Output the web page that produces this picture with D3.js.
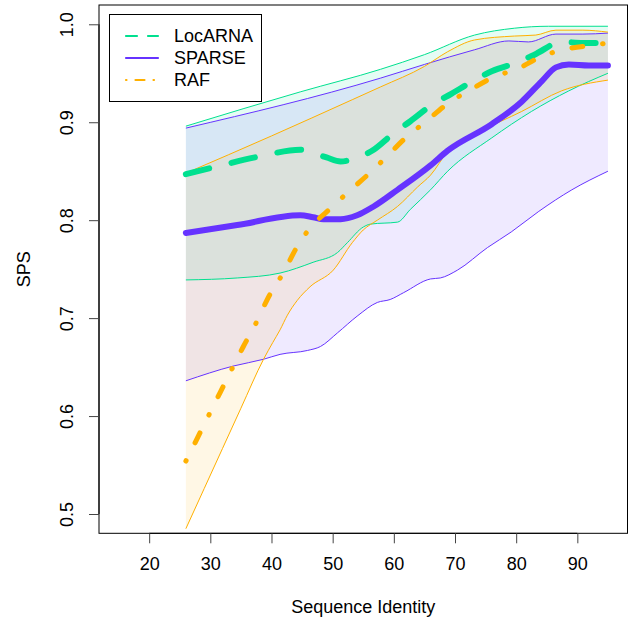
<!DOCTYPE html>
<html>
<head>
<meta charset="utf-8">
<script src="https://cdn.jsdelivr.net/npm/d3@7"></script>
<style>
  body { margin: 0; background: #fff; }
  text { font-family: "Liberation Sans", Arial, sans-serif; fill: #000; }
</style>
</head>
<body>
<div id="chart"></div>
<script>
// values: [sequence identity, SPS]
const locarnaMean = [[26,0.847],[30.5,0.854],[38,0.865],[44.7,0.872],[46,0.870],[49,0.864],[51.3,0.860],[53.7,0.863],[56.7,0.872],[60,0.889],[62.7,0.901],[66.3,0.918],[69.4,0.929],[73.2,0.943],[76,0.952],[80.6,0.962],[83.3,0.970],[87.4,0.982],[90.9,0.981],[95,0.981]];
const locarnaUpper = [[26,0.896],[44.7,0.931],[57.8,0.954],[65,0.969],[73.2,0.989],[79.7,0.996],[85.3,0.998],[95,0.998]];
const locarnaLower = [[26,0.739],[34.4,0.741],[41.4,0.746],[46.8,0.757],[50.8,0.767],[52.4,0.777],[55,0.793],[56.2,0.796],[60.6,0.798],[62.7,0.811],[66,0.831],[68.8,0.850],[76,0.884],[82.5,0.911],[88.6,0.932],[95,0.950]];

const sparseMean = [[26,0.787],[34.4,0.795],[44.7,0.805],[46.8,0.803],[48.5,0.801],[51.3,0.801],[54,0.805],[56.7,0.814],[60.6,0.831],[66,0.856],[68.8,0.871],[76,0.898],[80.9,0.921],[84.2,0.942],[86.5,0.956],[88.6,0.959],[91.9,0.958],[95,0.958]];
const sparseUpper = [[26,0.894],[57.8,0.945],[65,0.959],[73.2,0.974],[78.8,0.983],[82,0.982],[86.5,0.990],[90.9,0.990],[95,0.991]];
const sparseLower = [[26,0.636],[33.7,0.651],[38.7,0.658],[41.4,0.663],[45.9,0.667],[48,0.671],[50.8,0.685],[54,0.702],[57.3,0.716],[59.4,0.719],[61.6,0.726],[66,0.740],[67.6,0.741],[70.4,0.749],[75.3,0.772],[79.2,0.788],[83.7,0.809],[89.1,0.831],[95,0.850]];

const rafMean = [[26,0.554],[28.4,0.584],[31.6,0.624],[35.4,0.671],[37.8,0.699],[39.3,0.719],[41.9,0.746],[44.2,0.773],[46.3,0.792],[49.1,0.809],[52.6,0.829],[56.2,0.849],[59,0.866],[61.9,0.884],[65.3,0.901],[68.8,0.919],[72.5,0.933],[76.3,0.946],[80.4,0.955],[84.1,0.967],[88.4,0.975],[93,0.979],[95,0.981]];
const rafUpper = [[26,0.848],[40,0.886],[53.2,0.923],[57.8,0.936],[65,0.957],[68.8,0.972],[73.2,0.984],[79.7,0.988],[83.2,0.989],[86.5,0.994],[90.9,0.994],[95,0.992]];
const rafLower = [[26,0.485],[29,0.526],[32,0.567],[35,0.608],[38.7,0.658],[40.2,0.675],[41.4,0.688],[42.6,0.703],[44.2,0.718],[46.3,0.732],[50.1,0.749],[53.2,0.777],[55,0.790],[57.3,0.800],[60.6,0.814],[63.9,0.834],[66,0.846],[68.8,0.870],[74.3,0.891],[80.9,0.911],[87.4,0.932],[95,0.943]];

const xTicks = [20, 30, 40, 50, 60, 70, 80, 90];
const yTicks = [0.5, 0.6, 0.7, 0.8, 0.9, 1.0];
const methods = ["LocARNA", "SPARSE", "RAF"];

const W = 640, H = 623;
const box = { left: 99, right: 627.5, top: 5, bottom: 533.3 };
const fontSize = "18px";

const svg = d3.select("#chart").append("svg")
  .attr("width", W)
  .attr("height", H);

const x = d3.scaleLinear().domain([11.8, 98.2]).range([box.left, box.right]);
const y = d3.scaleLinear().domain([0.4803, 1.0197]).range([box.bottom, box.top]);

const series = [
  { name: methods[0], color: "#00E08F", mean: locarnaMean, upper: locarnaUpper, lower: locarnaLower,
    width: 6, dash: "24,23", legendDash: "11,11" },
  { name: methods[1], color: "#6633FF", mean: sparseMean, upper: sparseUpper, lower: sparseLower,
    width: 6, dash: null, legendDash: null },
  { name: methods[2], color: "#FFB000", mean: rafMean, upper: rafUpper, lower: rafLower,
    width: 5, dash: "0.5,20,11,20", legendDash: "0.5,9,9,9" }
];

const line = d3.line().x(d => x(d[0])).y(d => y(d[1])).curve(d3.curveMonotoneX);

svg.append("clipPath").attr("id", "plotClip")
  .append("rect")
  .attr("x", box.left).attr("y", box.top)
  .attr("width", box.right - box.left).attr("height", box.bottom - box.top);

const plot = svg.append("g").attr("clip-path", "url(#plotClip)");

// bands: upper edge forward, lower edge back
series.forEach(s => {
  const up = line(s.upper);
  const low = line(s.lower.slice().reverse());
  plot.append("path")
    .attr("d", up + "L" + low.slice(1) + "Z")
    .attr("fill", s.color)
    .attr("fill-opacity", 0.1)
    .attr("stroke", "none");
});

series.forEach(s => {
  [s.upper, s.lower].forEach(edge => {
    plot.append("path")
      .attr("d", line(edge))
      .attr("fill", "none")
      .attr("stroke", s.color)
      .attr("stroke-width", 1);
  });
});

series.forEach(s => {
  plot.append("path")
    .attr("d", line(s.mean))
    .attr("fill", "none")
    .attr("stroke", s.color)
    .attr("stroke-width", s.width)
    .attr("stroke-linecap", "round")
    .attr("stroke-linejoin", "round")
    .attr("stroke-dasharray", s.dash);
});

// box
svg.append("rect")
  .attr("x", box.left).attr("y", box.top)
  .attr("width", box.right - box.left).attr("height", box.bottom - box.top)
  .attr("fill", "none")
  .attr("stroke", "#000");

// axes
const xAxis = svg.append("g")
  .attr("transform", `translate(0,${box.bottom})`)
  .call(d3.axisBottom(x).tickValues(xTicks).tickSize(10).tickPadding(14).tickFormat(d3.format("d")));
xAxis.select(".domain").attr("d", `M${x(20)},0H${x(90)}`);
xAxis.selectAll("line").attr("stroke", "#444");
xAxis.selectAll("text").style("font-size", fontSize).attr("font-family", null);

const yAxis = svg.append("g")
  .attr("transform", `translate(${box.left},0)`)
  .call(d3.axisLeft(y).tickValues(yTicks).tickSize(10).tickFormat(d3.format(".1f")));
yAxis.select(".domain").attr("d", `M0,${y(0.5)}V${y(1.0)}`);
yAxis.selectAll("line").attr("stroke", "#444");
yAxis.selectAll("text")
  .attr("x", null).attr("dy", null)
  .attr("text-anchor", "middle")
  .attr("dominant-baseline", "central")
  .attr("transform", "translate(-32,0) rotate(-90)")
  .style("font-size", fontSize)
  .attr("font-family", null);

svg.append("text")
  .attr("x", (box.left + box.right) / 2)
  .attr("y", 607)
  .attr("text-anchor", "middle")
  .attr("dominant-baseline", "central")
  .style("font-size", fontSize)
  .text("Sequence Identity");

svg.append("text")
  .attr("transform", `translate(24,${(box.top + box.bottom) / 2}) rotate(-90)`)
  .attr("text-anchor", "middle")
  .attr("dominant-baseline", "central")
  .style("font-size", fontSize)
  .text("SPS");

// legend
const legend = svg.append("g");
legend.append("rect")
  .attr("x", 109.5).attr("y", 14.5)
  .attr("width", 152).attr("height", 87)
  .attr("fill", "#fff")
  .attr("stroke", "#000");

series.forEach((s, i) => {
  const ly = 36 + i * 22;
  legend.append("line")
    .attr("x1", 126).attr("x2", 158)
    .attr("y1", ly).attr("y2", ly)
    .attr("stroke", s.color)
    .attr("stroke-width", 2.2)
    .attr("stroke-linecap", "round")
    .attr("stroke-dasharray", s.legendDash);
  legend.append("text")
    .attr("x", 174).attr("y", ly)
    .attr("dominant-baseline", "central")
    .style("font-size", fontSize)
    .text(s.name);
});
</script>
</body>
</html>
